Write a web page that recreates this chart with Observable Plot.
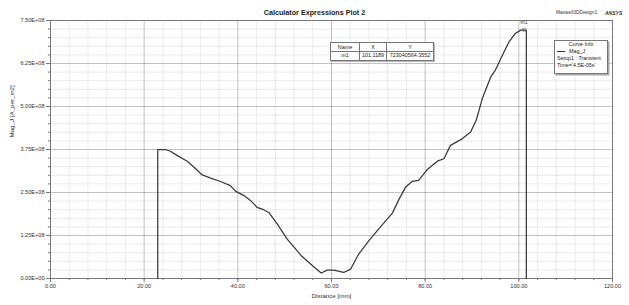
<!DOCTYPE html>
<html>
<head>
<meta charset="utf-8">
<script src="https://cdn.jsdelivr.net/npm/d3@7"></script>
<script src="https://cdn.jsdelivr.net/npm/@observablehq/plot@0.6"></script>
<style>
  html, body { margin: 0; padding: 0; background: #fff; }
  #wrap { position: relative; width: 629px; height: 305px; font-family: "Liberation Sans", Arial, sans-serif; color: #222; }
  .ov { position: absolute; white-space: nowrap; }
  table.mk { position: absolute; border-collapse: collapse; font-size: 5.4px; background: #fff; box-shadow: 1px 1px 0 #bbb; }
  table.mk td { border: 0.8px solid #777; padding: 0.5px 2px; text-align: center; line-height: 6.8px; }
  .ci { position: absolute; border: 0.8px solid #777; background: #fff; font-size: 5.4px; line-height: 7px; box-shadow: 1.5px 1.5px 0 #aaa; padding: 0 2px; }
</style>
</head>
<body>
<div id="wrap"></div>
<script>
// ---- data ----
const distance = [22.9, 22.9, 24.5, 25.6, 27.0, 29.2, 30.6, 32.4, 34.2, 36.3, 38.4, 39.5, 41.3, 42.7, 44.1, 45.5, 46.6, 48.4, 50.5, 53.5, 56.2, 57.8, 59.1, 60.5, 62.6, 64.1, 65.8, 68.0, 70.5, 73.0, 74.4, 75.8, 77.2, 78.6, 80.4, 82.6, 84.0, 85.4, 87.9, 89.7, 90.9, 92.2, 94.0, 95.0, 96.5, 97.9, 99.3, 100.4, 101.4, 101.6, 101.6];
const magJ = [0, 3.745e8, 3.75e8, 3.70e8, 3.58e8, 3.41e8, 3.24e8, 3.01e8, 2.92e8, 2.82e8, 2.70e8, 2.54e8, 2.41e8, 2.27e8, 2.07e8, 2.00e8, 1.92e8, 1.59e8, 1.15e8, 0.67e8, 0.34e8, 0.16e8, 0.245e8, 0.245e8, 0.175e8, 0.274e8, 0.71e8, 1.10e8, 1.51e8, 1.90e8, 2.30e8, 2.65e8, 2.82e8, 2.85e8, 3.16e8, 3.41e8, 3.48e8, 3.87e8, 4.06e8, 4.26e8, 4.6e8, 5.23e8, 5.86e8, 6.06e8, 6.49e8, 6.88e8, 7.13e8, 7.22e8, 7.22e8, 7.22e8, 0];
const markerNames = ["m1"];
const markerX = [101.1189];
const markerY = [723040564.3552];
const xMajor = [0, 20, 40, 60, 80, 100, 120];
const xMinor = d3.range(0, 121, 4);
const yMajor = [0, 1.25e8, 2.5e8, 3.75e8, 5e8, 6.25e8, 7.5e8];
const yMinor = d3.range(0, 7.5e8 + 1, 0.25e8);
const title = "Calculator Expressions Plot 2";
const xLabel = "Distance [mm]";
const yLabel = "Mag_J [A_per_m2]";
const curveName = "Mag_J";
const curveInfo = ["Setup1 : Transient", "Time='4.5E-05s'"];

const data = distance.map((d, i) => ({x: d, y: magJ[i]}));
const markers = markerNames.map((n, i) => ({name: n, x: markerX[i], y: markerY[i]}));

const fmtE = d => {
  const [m, e] = d.toExponential(2).split("e");
  return m + "E" + e[0] + e.slice(1).padStart(2, "0");
};

const chart = Plot.plot({
  width: 629,
  height: 305,
  marginLeft: 50,
  marginRight: 17,
  marginTop: 20,
  marginBottom: 27,
  style: {fontFamily: "'Liberation Sans', Arial, sans-serif", fontSize: "5.6px", background: "#fff", color: "#333"},
  x: {domain: [0, 120]},
  y: {domain: [0, 7.5e8]},
  marks: [
    Plot.gridX(xMinor, {stroke: "#000", strokeOpacity: 0.08}),
    Plot.gridY(yMinor, {stroke: "#000", strokeOpacity: 0.08}),
    Plot.gridX(xMajor, {stroke: "#000", strokeOpacity: 0.17}),
    Plot.gridY(yMajor, {stroke: "#000", strokeOpacity: 0.17}),
    Plot.frame({stroke: "#777"}),
    Plot.axisX(xMinor, {tickSize: 2, tickFormat: () => "", label: null, stroke: "#777"}),
    Plot.axisX(xMajor, {tickSize: 4, tickPadding: 2, tickFormat: d => d.toFixed(2), label: null, stroke: "#777"}),
    Plot.axisY(yMinor, {tickSize: 2, tickFormat: () => "", label: null, stroke: "#777"}),
    Plot.axisY(yMajor, {tickSize: 4, tickPadding: 2, tickFormat: fmtE, label: null, stroke: "#777"}),
    Plot.text([xLabel], {frameAnchor: "bottom", dy: 19, fontSize: 6.2, fill: "#333"}),
    Plot.text([yLabel], {frameAnchor: "left", dx: -38, dy: -12, rotate: -90, fontSize: 6.2, fill: "#333"}),
    Plot.line(data, {x: "x", y: "y", stroke: "#3a3a3a", strokeWidth: 1.25}),
    Plot.dot(markers, {x: "x", y: "y", symbol: "square", r: 1.6, stroke: "#666", strokeWidth: 0.6, fill: "none"}),
    Plot.text(markers, {x: "x", y: "y", text: "name", dy: -7, fontSize: 5, fill: "#333"})
  ]
});
const wrap = document.getElementById("wrap");
wrap.appendChild(chart);

function ov(html, style) {
  const d = document.createElement("div");
  d.className = "ov";
  d.innerHTML = html;
  Object.assign(d.style, style);
  wrap.appendChild(d);
  return d;
}
ov(title, {left: "0px", width: "629px", textAlign: "center", top: "8px", fontSize: "7.2px", fontWeight: "bold", color: "#222"});
ov("Maxwell3DDesign1", {left: "556px", top: "10px", fontSize: "4.8px", color: "#333"});
ov("ANSYS", {left: "605px", top: "9.5px", fontSize: "5px", fontWeight: "bold", fontStyle: "italic", color: "#333"});

// marker table
const t = document.createElement("table");
t.className = "mk";
Object.assign(t.style, {left: "330px", top: "42px"});
t.innerHTML = `<tr><td style="width:24px">Name</td><td style="width:17px">X</td><td style="width:42px">Y</td></tr>` +
  markers.map(m => `<tr><td>${m.name}</td><td>${m.x.toFixed(4)}</td><td>${m.y.toFixed(4)}</td></tr>`).join("");
wrap.appendChild(t);

// curve info
const ci = document.createElement("div");
ci.className = "ci";
Object.assign(ci.style, {left: "554px", top: "40px", width: "48px", height: "32px"});
ci.innerHTML = `<div style="text-align:center">Curve Info</div>` +
  `<div><span style="display:inline-block;width:8px;border-top:1px solid #333;vertical-align:middle;margin-right:4px"></span>${curveName}</div>` +
  curveInfo.map(s => `<div>${s}</div>`).join("");
wrap.appendChild(ci);
</script>
</body>
</html>
